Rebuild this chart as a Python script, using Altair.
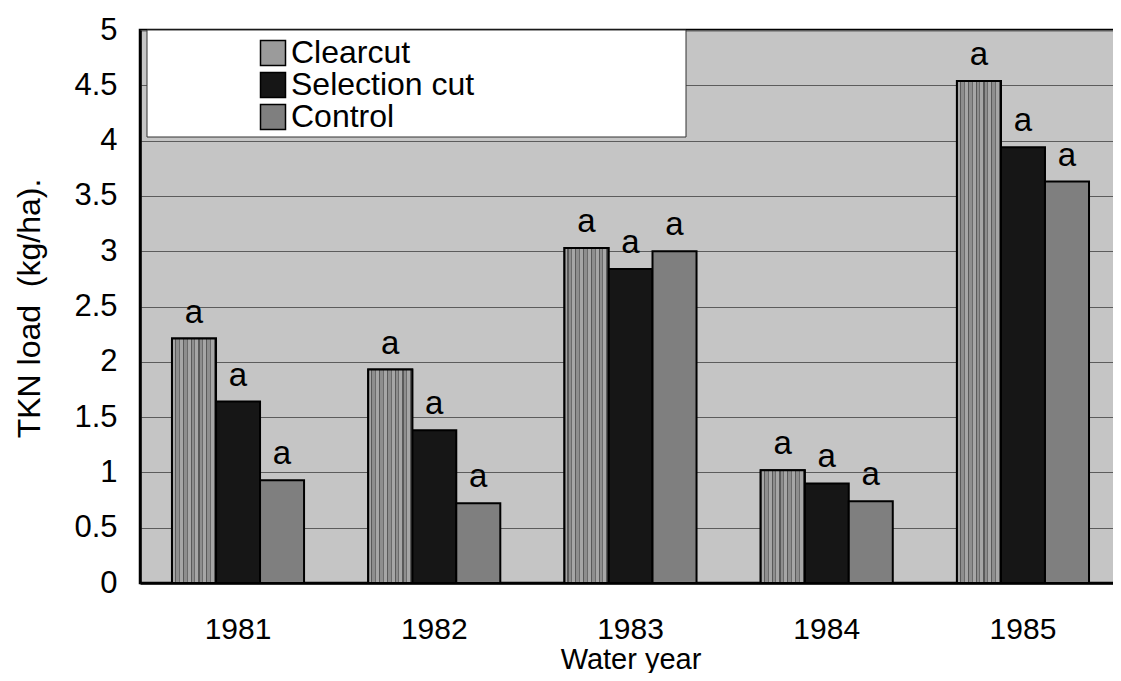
import altair as alt
import pandas as pd

# ---- data ----
years = ["1981", "1982", "1983", "1984", "1985"]
series = ["Clearcut", "Selection cut", "Control"]
clearcut = [2.21, 1.93, 3.03, 1.02, 4.54]
selection_cut = [1.64, 1.38, 2.84, 0.90, 3.94]
control = [0.93, 0.72, 3.00, 0.74, 3.63]
letters_clearcut = ["a", "a", "a", "a", "a"]
letters_selection = ["a", "a", "a", "a", "a"]
letters_control = ["a", "a", "a", "a", "a"]
y_ticks = [0, 0.5, 1, 1.5, 2, 2.5, 3, 3.5, 4, 4.5, 5]

rows = []
for vals, lets, name in [(clearcut, letters_clearcut, "Clearcut"),
                         (selection_cut, letters_selection, "Selection cut"),
                         (control, letters_control, "Control")]:
    for yr, v, l in zip(years, vals, lets):
        rows.append({"year": yr, "series": name, "value": v, "letter": l})
df = pd.DataFrame(rows)

FONT = "Liberation Sans, Arial, Helvetica, sans-serif"
fills = ["#9b9b9b", "#161616", "#7f7f7f"]

# vertical-stripe gradient for the Clearcut bars (styling only)
pattern = [("#a6a6a6", 3.0), ("#5a5a5a", 1.2), ("#8e8e8e", 2.6), ("#6b6b6b", 1.0)]
bar_w = 44.0
stops = []
pos = 0.0
i = 0
while pos < bar_w:
    col, w = pattern[i % len(pattern)]
    a = pos / bar_w
    b = min(pos + w, bar_w) / bar_w
    stops.append({"offset": a, "color": col})
    stops.append({"offset": b, "color": col})
    pos += w
    i += 1
grad = {"gradient": "linear", "x1": 0, "y1": 0, "x2": 1, "y2": 0, "stops": stops}

x_enc = alt.X("year:N", sort=years,
              scale=alt.Scale(paddingInner=0.327, paddingOuter=0.163),
              axis=alt.Axis(title="Water year", labelAngle=0, grid=False,
                            labelFontSize=30,
                            labelPadding=55, labelBaseline="alphabetic",
                            titleY=85, titleBaseline="alphabetic"))
xo_enc = alt.XOffset("series:N", sort=series,
                     scale=alt.Scale(domain=series, paddingInner=0, paddingOuter=0))
y_enc = alt.Y("value:Q",
              scale=alt.Scale(domain=[0, 5], nice=False),
              axis=alt.Axis(title="TKN load\u00a0 (kg/ha).", values=y_ticks, format="~g",
                            labelFontSize=31, labelPadding=23, grid=True,
                            titleFontSize=32,
                            titleX=-101, titleY=278, titleAngle=270,
                            titleBaseline="alphabetic", titleAlign="center"))

base = alt.Chart(df)

bars = base.mark_bar(stroke="black", strokeWidth=2).encode(
    x=x_enc, xOffset=xo_enc, y=y_enc,
    color=alt.Color("series:N", sort=series,
                    scale=alt.Scale(domain=series, range=fills),
                    legend=alt.Legend(title=None, orient="none", legendX=117, legendY=7,
                                      symbolType="square", symbolSize=625,
                                      symbolStrokeColor="black", symbolStrokeWidth=1.5,
                                      labelFont=FONT, labelFontSize=32, labelColor="black",
                                      labelOffset=2, rowPadding=0, padding=0,
                                      labelLimit=400)),
)

cc_overlay = base.transform_filter(alt.datum.series == "Clearcut").mark_bar(
    fill=grad, stroke="black", strokeWidth=2
).encode(x=x_enc, xOffset=xo_enc, y=y_enc)

labels = base.mark_text(font=FONT, fontSize=33, baseline="alphabetic", dy=-16,
                        color="black").encode(
    x=x_enc, xOffset=xo_enc, y=y_enc, text="letter:N")

legend_box = alt.Chart(pd.DataFrame({"k": [0]})).mark_rect(
    fill="white", stroke="#333333", strokeWidth=1
).encode(x=alt.value(7), x2=alt.value(546), y=alt.value(0), y2=alt.value(107))

chart = alt.layer(bars, cc_overlay, labels, legend_box).properties(
    width=981, height=553,
    padding={"left": 132, "top": 22, "right": -8, "bottom": 90},
    autosize="none",
    background="white",
).configure_view(
    fill="#c5c5c5", stroke="black", strokeWidth=2.5
).configure_axis(
    labelFont=FONT, labelColor="black",
    titleFont=FONT, titleFontSize=29, titleFontWeight="normal", titleColor="black",
    domainColor="black", domainWidth=2.5, ticks=False, tickSize=0,
    gridColor="#5c5c5c", gridWidth=1,
)

chart.save("out.html", embed_options={"renderer": "svg", "actions": False})
